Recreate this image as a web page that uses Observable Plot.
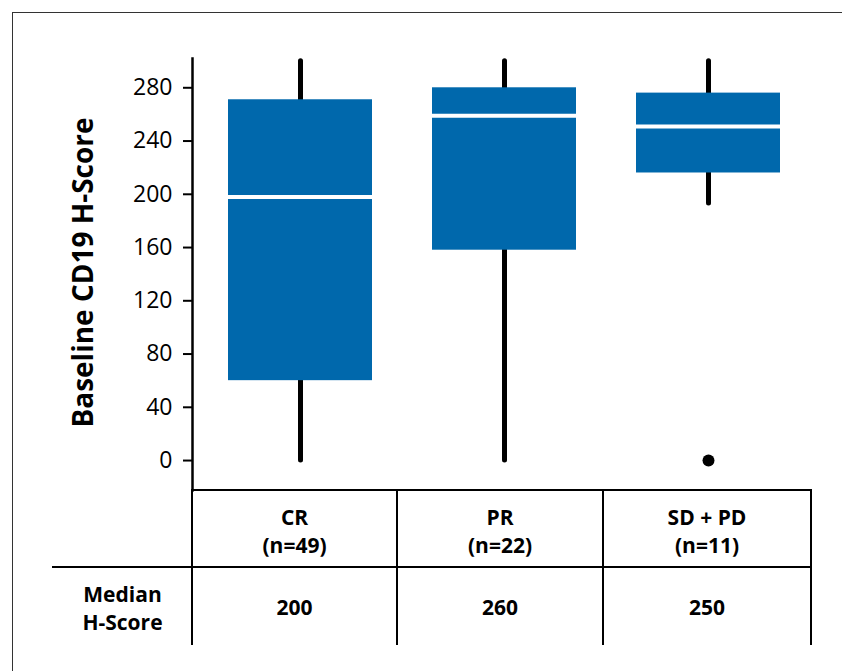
<!DOCTYPE html>
<html><head><meta charset="utf-8">
<script src="https://cdn.jsdelivr.net/npm/d3@7"></script>
<script src="https://cdn.jsdelivr.net/npm/@observablehq/plot@0.6"></script>
<style>
html,body{margin:0;padding:0;background:#fff;}
body{width:842px;height:671px;position:relative;overflow:hidden;font-family:"Open Sans",sans-serif;color:#000;}
#border{position:absolute;left:12px;top:12px;width:900px;height:700px;border-top:1.5px solid #333;border-left:1.5px solid #333;}
#chart{position:absolute;left:0;top:0;}
.cell{position:absolute;box-sizing:border-box;display:flex;flex-direction:column;align-items:center;justify-content:center;font-weight:700;font-size:21px;line-height:28px;text-align:center;}
</style></head><body>
<div id="border"></div><div id="chart"></div><div id="table"></div>
<script>
// ---- data ----
const categories = ["CR", "PR", "SD + PD"];
const nCounts = [49, 22, 11];
const whiskerLow = [0, 0, 193];
const q1 = [60, 158, 216];
const medians = [198, 259, 251];
const q3 = [271, 280, 276];
const whiskerHigh = [300, 300, 300];
const outlierGroups = ["SD + PD"];
const outlierValues = [0];
const medianLabels = ["200", "260", "250"];
const yTicks = [0, 40, 80, 120, 160, 200, 240, 280];
const yLabel = "Baseline CD19 H-Score";
const rowLabel = ["Median", "H-Score"];

const boxes = categories.map((g, i) => ({group: g, lo: whiskerLow[i], q1: q1[i], median: medians[i], q3: q3[i], hi: whiskerHigh[i]}));
const outliers = outlierGroups.map((g, i) => ({group: g, value: outlierValues[i]}));

const chart = Plot.plot({
  width: 842, height: 491,
  marginLeft: 192, marginRight: 32, marginTop: 58, marginBottom: 1,
  style: {fontFamily: "Open Sans", fontSize: "23px", color: "black", background: "transparent", overflow: "visible"},
  x: {domain: categories, range: [197, 810], paddingInner: 0.295, paddingOuter: 0.1475, axis: null},
  y: {domain: [-22.5, 302], axis: null},
  marks: [
    Plot.frame({anchor: "left", stroke: "black", strokeWidth: 2.5}),
    Plot.axisY({ticks: yTicks, tickSize: 9, tickPadding: 11, strokeWidth: 2, fontSize: 23, label: null, stroke: "black", fill: "black"}),
    Plot.ruleX(boxes, {x: "group", y1: "lo", y2: "hi", stroke: "black", strokeWidth: 5, strokeLinecap: "round"}),
    Plot.barY(boxes, {x: "group", y1: "q1", y2: "q3", fill: "#0068ac"}),
    Plot.tickY(boxes, {x: "group", y: "median", stroke: "white", strokeWidth: 4}),
    Plot.dot(outliers, {x: "group", y: "value", r: 6, fill: "black"}),
    Plot.text([yLabel], {text: d => d, frameAnchor: "left", textAnchor: "middle", rotate: -90, dx: -108.5, dy: -2, fontSize: 28, fontWeight: 700, fill: "black"})
  ]
});
document.getElementById("chart").appendChild(chart);

// ---- table below the chart ----
const colEdges = [52, 191, 396, 602, 810];
const rowEdges = [489, 566, 645];
const tbl = document.getElementById("table");
function cell(left, top, width, height, borders, lines, pad) {
  const d = document.createElement("div");
  d.className = "cell";
  d.style.left = left + "px"; d.style.top = top + "px";
  d.style.width = width + "px"; d.style.height = height + "px";
  for (const b of borders) d.style["border" + b] = "2px solid #000";
  d.style.paddingTop = (pad || 0) + "px";
  for (const l of lines) { const s = document.createElement("div"); s.textContent = l; d.appendChild(s); }
  tbl.appendChild(d);
}
categories.forEach((g, i) => {
  const left = colEdges[i + 1], w = colEdges[i + 2] + 2 - left;
  cell(left, rowEdges[0], w, rowEdges[1] + 2 - rowEdges[0], ["Top", "Left", "Right"], [g, `(n=${nCounts[i]})`], 3);
  cell(left, rowEdges[1], w, rowEdges[2] - rowEdges[1], ["Top", "Left", "Right"], [medianLabels[i]], -1);
});
cell(colEdges[0], rowEdges[1], colEdges[1] + 2 - colEdges[0], rowEdges[2] - rowEdges[1], ["Top"], rowLabel, 2);
</script>
</body></html>
